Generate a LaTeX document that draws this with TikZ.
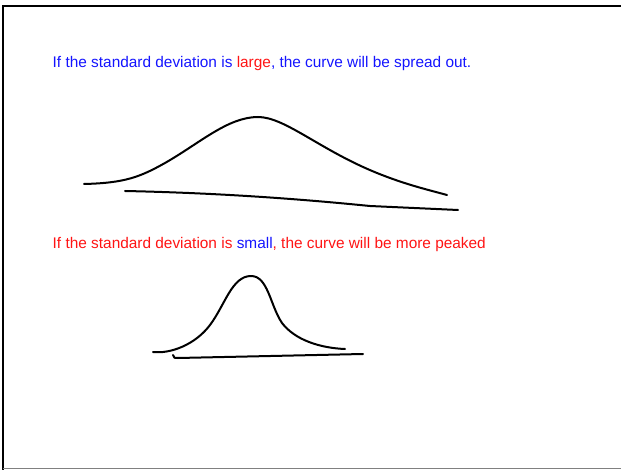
\documentclass[tikz,border=0pt]{standalone}
\usepackage{xcolor}
\usepackage{fontspec}
\setmainfont{Liberation Sans}
\usepackage{tikz}
\usetikzlibrary{positioning}

\definecolor{textblue}{RGB}{20,20,255}
\definecolor{textred}{RGB}{255,20,20}

\begin{document}
\begin{tikzpicture}[x=1pt, y=-1pt, curve/.style={line width=2pt, line cap=round, line join=round}]
        \useasboundingbox (0,0) rectangle (621,470);
        \draw[line width=2.5pt] (3,470) -- (3,6) -- (621,6);
        \draw[gray, line width=1pt] (3,468.5) -- (621,468.5);

        \node (large) [anchor=base west, inner sep=0pt, font=\fontsize{15.4}{18}\selectfont, text=textblue] at (52.5,68) {If the standard deviation is \textcolor{textred}{large}, the curve will be spread out.};

        \draw[curve] (84,184) .. controls (125,183) and (140,177) .. (165,163) .. controls (200,143) and (228,117) .. (258,117) .. controls (285,117) and (320,150) .. (377,173) .. controls (405,184.3) and (425,189) .. (447,195);
        \draw[curve] (125,191) .. controls (220,193) and (300,199) .. (370,206) -- (458,210);

        \node (small) [anchor=base west, inner sep=0pt, font=\fontsize{15.4}{18}\selectfont, text=textred] at (52.5,249) {If the standard deviation is \textcolor{textblue}{small}, the curve will be more peaked};

        \draw[curve] (153,352) .. controls (170,354) and (195,345) .. (210,325) .. controls (225,305) and (232,276) .. (251,276) .. controls (268,276) and (270,305) .. (282,323) .. controls (295,340) and (320,348) .. (345,349);
        \draw[curve] (173,355) .. controls (174,358) .. (178,358) -- (363,354);
\end{tikzpicture}
\end{document}
